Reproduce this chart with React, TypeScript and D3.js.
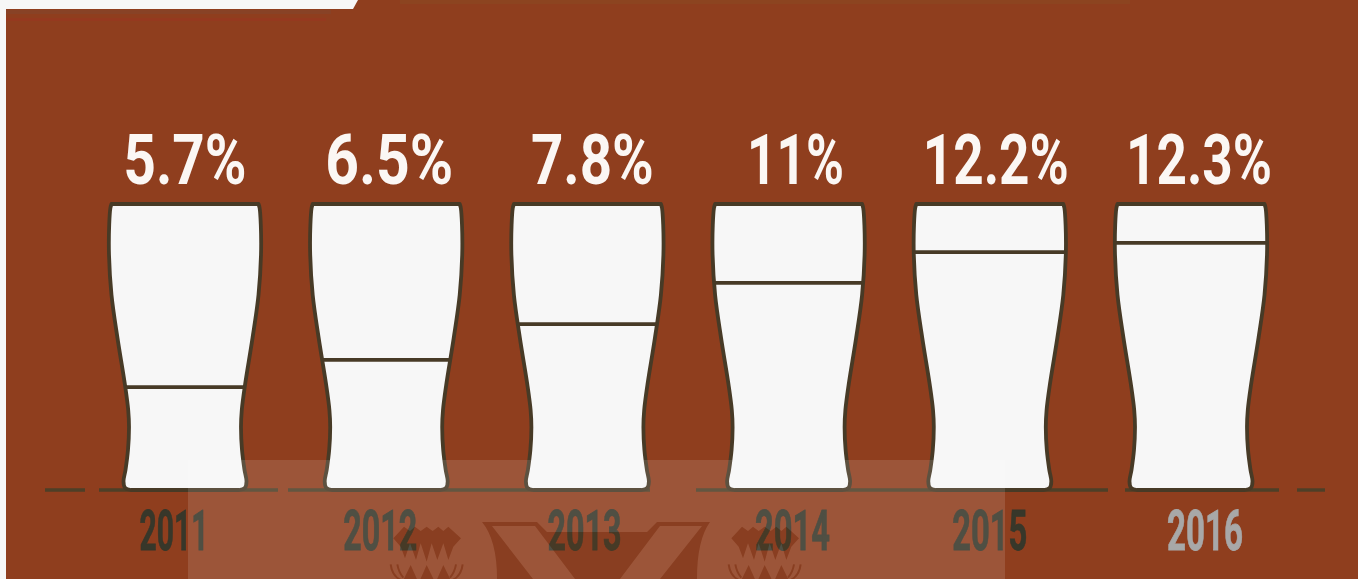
import React from "react";
import * as d3 from "d3";

// Share of pints, per year
const years = ["2011", "2012", "2013", "2014", "2015", "2016"];
const shareValues = [5.7, 6.5, 7.8, 11, 12.2, 12.3];
const shareLabels = ["5.7%", "6.5%", "7.8%", "11%", "12.2%", "12.3%"];
// Gauge reading of each value on the glass: 0 is the foot, 1 the rim
const glassLevels = [0.36, 0.455, 0.58, 0.724, 0.832, 0.864];

// Glass silhouette: depth from rim (0..1) and half width in px
const glassDepth = [0, 0.014, 0.073, 0.178, 0.318, 0.469, 0.633, 0.72, 0.78, 0.86, 0.93, 0.97, 0.992, 1];
const glassHalfWidth = [73.5, 74.6, 75.8, 76, 73.5, 67.5, 60, 56.8, 56, 57, 59.5, 61.5, 60, 54];

const W = 1358;
const H = 579;
const RIM_Y = 204;
const FOOT_Y = 490;

// Text fitting: horizontal nudge from the glass centre and fitted width
const valueNudge = [0, 3, 5, 7, 6, 8];
const valueWidth = [123, 128, 123, 97, 146, 146];
const yearNudge = [-11, -6, -3, 4, 0, 14];
const yearWidth = [69, 74, 74, 75, 75, 76];
const yearColors = ["#37372a", "#37372a", "#37372a", "#37372a", "#37372a", "#a8a8a8"];

// Table line under the glasses, broken into runs
const tableRuns = [
  [45, 85],
  [99, 278],
  [288, 650],
  [696, 1108],
  [1125, 1279],
  [1297, 1325],
];

const x = d3.scalePoint<string>().domain(years).range([185, 1191]);
const depthY = d3.scaleLinear().domain([0, 1]).range([RIM_Y, FOOT_Y]);
const levelY = d3.scaleLinear().domain([0, 1]).range([FOOT_Y, RIM_Y]);
const valueToLevel = d3.scaleLinear().domain(shareValues).range(glassLevels);

const side = d3
  .line<number>()
  .x((w) => w)
  .y((_, i) => depthY(glassDepth[i]))
  .curve(d3.curveCatmullRom.alpha(0.5));

function glassPath(): string {
  const right = side(glassHalfWidth) as string;
  const left = d3
    .line<number>()
    .x((w) => -w)
    .y((_, i) => depthY(glassDepth[glassDepth.length - 1 - i]))
    .curve(d3.curveCatmullRom.alpha(0.5))([...glassHalfWidth].reverse()) as string;
  return `${right}L${left.slice(1)}Z`;
}

// Watermark crest pieces, local units are a third of a pixel
const crestCrown: [number, number][] = [
  [40, 70], [72, 35], [90, 48], [105, 35], [122, 48], [140, 35], [158, 48], [175, 35], [190, 48], [205, 35], [243, 70],
  [220, 95], [205, 135], [190, 85], [172, 135], [155, 85], [140, 140], [122, 85], [108, 135], [90, 85], [75, 130], [62, 95],
];
const crestPetals: [number, number][][] = [
  [[70, 195], [92, 150], [112, 195]],
  [[120, 195], [140, 150], [162, 195]],
  [[170, 195], [190, 150], [212, 195]],
];

function Crest({ cx }: { cx: number }) {
  const poly = d3.line<[number, number]>().curve(d3.curveLinearClosed);
  return (
    <g transform={`translate(${cx - 47},515) scale(${1 / 3})`} fill="#e0ba91">
      <path d={poly(crestCrown) as string} />
      {crestPetals.map((p, i) => (
        <path key={i} d={poly(p) as string} />
      ))}
      <path d="M32 148Q36 182 62 195M248 148Q244 182 218 195M52 148Q56 172 70 188M228 148Q224 172 210 188" fill="none" stroke="#e0ba91" strokeWidth={6} />
    </g>
  );
}

export default function App() {
  const outline = glassPath();
  const font = 'Roboto, "Liberation Sans", sans-serif';
  return (
    <svg
      width={W}
      height={H}
      viewBox={`0 0 ${W} ${H}`}
      style={{ position: "absolute", left: 0, top: 0, display: "block" }}
    >
      <defs>
        <clipPath id="glass-clip">
          <path d={outline} />
        </clipPath>
      </defs>
      <rect width={W} height={H} fill="#f7f7f7" />
      <rect x={6} width={W - 6} height={H} fill="#8f3e1e" />
      <rect x={6} y={10} width={325} height={4} fill="#84452a" opacity={0.7} />
      <rect x={6} y={18} width={320} height={3} fill="#97381f" opacity={0.7} />
      <path d="M6 0H358L353 9H6Z" fill="#f7f7f7" />
      <rect x={400} y={0} width={730} height={4} fill="#8a4a22" opacity={0.6} />

      {tableRuns.map(([a, b], i) => (
        <line key={i} x1={a} x2={b} y1={FOOT_Y} y2={FOOT_Y} stroke="#4d3f27" strokeWidth={3.4} />
      ))}

      {years.map((year, i) => {
        const cx = x(year) as number;
        const y = levelY(valueToLevel(shareValues[i]));
        return (
          <g key={year}>
            <text
              x={cx + valueNudge[i]}
              y={184}
              textAnchor="middle"
              fontFamily={font}
              fontWeight={700}
              fontSize={71}
              fill="#fbf7f4"
              textLength={valueWidth[i]}
              lengthAdjust="spacingAndGlyphs"
            >
              {shareLabels[i]}
            </text>
            <g transform={`translate(${cx},0)`}>
              <path d={outline} fill="#f7f7f7" stroke="#473a26" strokeWidth={3.8} strokeLinejoin="round" />
              <g clipPath="url(#glass-clip)">
                <line x1={-90} x2={90} y1={y} y2={y} stroke="#473a26" strokeWidth={3.8} />
              </g>
            </g>
            <text
              x={cx + yearNudge[i]}
              y={550}
              textAnchor="middle"
              fontFamily={font}
              fontWeight={700}
              fontSize={56}
              fill={yearColors[i]}
              stroke={yearColors[i]}
              strokeWidth={0.8}
              textLength={yearWidth[i]}
              lengthAdjust="spacingAndGlyphs"
            >
              {year}
            </text>
          </g>
        );
      })}

      {/* Watermark panel, with its letter and two crests */}
      <rect x={188} y={460} width={817} height={119} fill="#fff" opacity={0.12} />
      <g style={{ mixBlendMode: "multiply" }}>
        <path
          fillRule="evenodd"
          fill="#e0ba91"
          d="M482 522H537L547 532H647L657 522H710Q697 540 697 579H497Q497 540 482 522Z M492 526H535L575 579H533Z M702 526H660L620 579H660Z"
        />
        <Crest cx={427} />
        <Crest cx={765} />
      </g>
    </svg>
  );
}
